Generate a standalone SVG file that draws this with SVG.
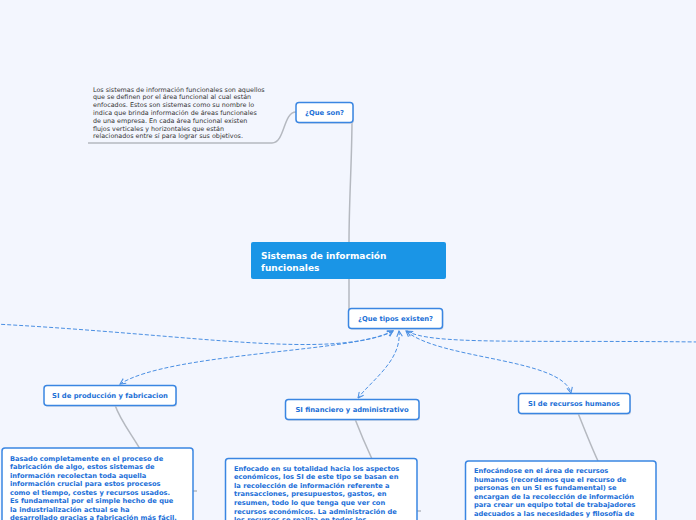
<svg xmlns="http://www.w3.org/2000/svg" width="696" height="520" viewBox="0 0 696 520">
<defs>
<style>
.bg{fill:#f3f6fe}
.node{fill:#ffffff;stroke:#3a86e2;stroke-width:1.5}
.shadow{fill:#c9cfdb;opacity:.6}
.lbl{font-family:"DejaVu Sans",Verdana,sans-serif;font-weight:bold;font-size:6.8px;fill:#1b6fd6;text-anchor:middle}
.det{font-family:"DejaVu Sans",Verdana,sans-serif;font-weight:bold;font-size:6.7px;fill:#1c6fd8}
.note{font-family:"DejaVu Sans",Verdana,sans-serif;font-size:6.4px;fill:#333333}
.title{font-family:"DejaVu Sans",Verdana,sans-serif;font-weight:bold;font-size:9px;fill:#ffffff}
.grey{fill:none;stroke:#b5b9c0;stroke-width:1.5}
.dash{fill:none;stroke:#4a8fe3;stroke-width:1;stroke-dasharray:4 2;marker-start:url(#arr);marker-end:url(#arr)}
</style>
<marker id="arr" viewBox="0 0 10 10" refX="9" refY="5" markerWidth="7" markerHeight="7" orient="auto-start-reverse" markerUnits="userSpaceOnUse">
<path d="M1,1 L9,5 L1,9" fill="none" stroke="#4a8fe3" stroke-width="1.5"/>
</marker>
</defs>
<rect class="bg" x="0" y="0" width="696" height="520"/>

<g id="connectors">
<path class="grey" d="M88,143 L272,143 C285,143 283,112 296,112"/>
<path class="grey" d="M352,118 C352,160 349,200 349,242"/>
<path class="grey" d="M349,279 L349,309"/>
<path class="grey" d="M115,405 C120,420 132,435 140,449"/>
<path class="grey" d="M355,419 C360,432 366,446 372,459"/>
<path class="grey" d="M578,413 C584,428 591,446 598,461"/>
<path class="grey" d="M193,491 L197,491" stroke-width="1"/>
<path class="grey" d="M417,511 L421,511" stroke-width="1"/>
<path class="dash" d="M-5,324 C200,335 330,360 393,331" style="marker-start:none"/>
<path class="dash" d="M393,331 C360,352 170,352 120,384"/>
<path class="dash" d="M399,331 C402,360 372,380 358,398"/>
<path class="dash" d="M406,331 C440,360 562,358 571,393"/>
<path class="dash" d="M407,331 C430,345 520,340 700,342" style="marker-end:none"/>
</g>

<g id="note">
<text class="note" x="93" y="91.5">Los sistemas de información funcionales son aquellos</text>
<text class="note" x="93" y="99.3">que se definen por el área funcional al cual están</text>
<text class="note" x="93" y="107.1">enfocados. Estos son sistemas como su nombre lo</text>
<text class="note" x="93" y="114.9">indica que brinda información de áreas funcionales</text>
<text class="note" x="93" y="122.7">de una empresa. En cada área funcional existen</text>
<text class="note" x="93" y="130.5">flujos verticales y horizontales que están</text>
<text class="note" x="93" y="138.3">relacionados entre sí para lograr sus objetivos.</text>
</g>

<g id="que-son">
<rect class="shadow" x="297" y="104" width="57" height="20" rx="3"/>
<rect class="node" x="296" y="102.5" width="57" height="20" rx="3"/>
<text class="lbl" x="324.5" y="115">¿Que son?</text>
</g>

<g id="central">
<rect x="251" y="242" width="195" height="37" rx="2" fill="#1a95e6"/>
<text class="title" x="261" y="259">Sistemas de información</text>
<text class="title" x="261" y="270.5">funcionales</text>
</g>

<g id="tipos">
<rect class="shadow" x="349.5" y="310" width="94" height="20" rx="3"/>
<rect class="node" x="348.5" y="308.5" width="94" height="20" rx="3"/>
<text class="lbl" x="395.5" y="321">¿Que tipos existen?</text>
</g>

<g id="produccion">
<rect class="shadow" x="45" y="387" width="132" height="20" rx="3"/>
<rect class="node" x="44" y="385.5" width="132" height="20" rx="3"/>
<text class="lbl" x="110" y="398">SI de producción y fabricacion</text>
</g>

<g id="financiero">
<rect class="shadow" x="286" y="401" width="134" height="20" rx="3"/>
<rect class="node" x="285.5" y="399.5" width="133.5" height="20" rx="3"/>
<text class="lbl" x="352" y="412">SI financiero y administrativo</text>
</g>

<g id="rrhh">
<rect class="shadow" x="519" y="395" width="112" height="20" rx="3"/>
<rect class="node" x="518.5" y="393.5" width="111.5" height="20" rx="3"/>
<text class="lbl" x="574" y="406">SI de recursos humanos</text>
</g>

<g id="det-produccion">
<rect class="node" x="2" y="448" width="191" height="80" rx="3"/>
<text class="det" x="10" y="460.5">Basado completamente en el proceso de</text>
<text class="det" x="10" y="469">fabricación de algo, estos sistemas de</text>
<text class="det" x="10" y="477.5">información recolectan toda aquella</text>
<text class="det" x="10" y="486">información crucial para estos procesos</text>
<text class="det" x="10" y="494.5">como el tiempo, costes y recursos usados.</text>
<text class="det" x="10" y="503">Es fundamental por el simple hecho de que</text>
<text class="det" x="10" y="511.5">la industrialización actual se ha</text>
<text class="det" x="10" y="519.5">desarrollado gracias a fabricación más fácil,</text>
</g>

<g id="det-financiero">
<rect class="node" x="225.5" y="458.5" width="191.5" height="80" rx="3"/>
<text class="det" x="234" y="470.5">Enfocado en su totalidad hacia los aspectos</text>
<text class="det" x="234" y="479.1">económicos, los SI de este tipo se basan en</text>
<text class="det" x="234" y="487.7">la recolección de información referente a</text>
<text class="det" x="234" y="496.3">transacciones, presupuestos, gastos, en</text>
<text class="det" x="234" y="504.9">resumen, todo lo que tenga que ver con</text>
<text class="det" x="234" y="513.5">recursos económicos. La administración de</text>
<text class="det" x="234" y="522.1">los recursos se realiza en todos los</text>
</g>

<g id="det-rrhh">
<rect class="node" x="465.5" y="461" width="190.5" height="80" rx="3"/>
<text class="det" x="474" y="473">Enfocándose en el área de recursos</text>
<text class="det" x="474" y="481.6">humanos (recordemos que el recurso de</text>
<text class="det" x="474" y="490.2">personas en un SI es fundamental) se</text>
<text class="det" x="474" y="498.8">encargan de la recolección de información</text>
<text class="det" x="474" y="507.4">para crear un equipo total de trabajadores</text>
<text class="det" x="474" y="516">adecuados a las necesidades y filosofía de</text>
</g>
</svg>
